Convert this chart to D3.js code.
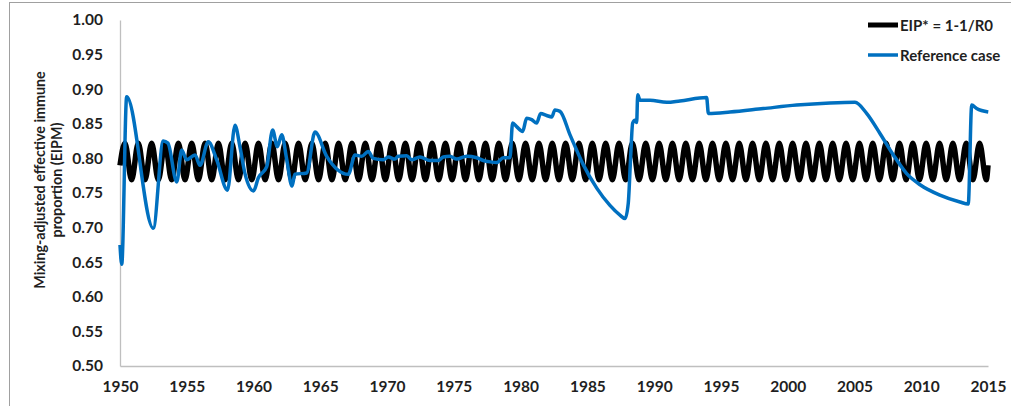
<html>
<head>
<title>EIPM chart</title>
<style>
  body { margin: 0; background: #fff; }
  text { font-family: Lato, "Open Sans", sans-serif; font-weight: bold; fill: #1f1f1f; }
</style>
<script src="https://cdn.jsdelivr.net/npm/d3@7"></script>
</head>
<body>
<div id="chart"></div>
<script>

// EIP* = 1-1/R0 (seasonal, peaks and troughs)
var eipYears = [1950.00,
  1950.37, 1950.87, 1951.37, 1951.87, 1952.37, 1952.87, 1953.37, 1953.87, 1954.37, 1954.87,
  1955.37, 1955.87, 1956.37, 1956.87, 1957.37, 1957.87, 1958.37, 1958.87, 1959.37, 1959.87,
  1960.37, 1960.87, 1961.37, 1961.87, 1962.37, 1962.87, 1963.37, 1963.87, 1964.37, 1964.87,
  1965.37, 1965.87, 1966.37, 1966.87, 1967.37, 1967.87, 1968.37, 1968.87, 1969.37, 1969.87,
  1970.37, 1970.87, 1971.37, 1971.87, 1972.37, 1972.87, 1973.37, 1973.87, 1974.37, 1974.87,
  1975.37, 1975.87, 1976.37, 1976.87, 1977.37, 1977.87, 1978.37, 1978.87, 1979.37, 1979.87,
  1980.37, 1980.87, 1981.37, 1981.87, 1982.37, 1982.87, 1983.37, 1983.87, 1984.37, 1984.87,
  1985.37, 1985.87, 1986.37, 1986.87, 1987.37, 1987.87, 1988.37, 1988.87, 1989.37, 1989.87,
  1990.37, 1990.87, 1991.37, 1991.87, 1992.37, 1992.87, 1993.37, 1993.87, 1994.37, 1994.87,
  1995.37, 1995.87, 1996.37, 1996.87, 1997.37, 1997.87, 1998.37, 1998.87, 1999.37, 1999.87,
  2000.37, 2000.87, 2001.37, 2001.87, 2002.37, 2002.87, 2003.37, 2003.87, 2004.37, 2004.87,
  2005.37, 2005.87, 2006.37, 2006.87, 2007.37, 2007.87, 2008.37, 2008.87, 2009.37, 2009.87,
  2010.37, 2010.87, 2011.37, 2011.87, 2012.37, 2012.87, 2013.37, 2013.87, 2014.37, 2014.87,
  2015.00];
var eipValues = [0.790,
  0.822, 0.769, 0.822, 0.769, 0.822, 0.769, 0.822, 0.769, 0.822, 0.769,
  0.822, 0.769, 0.822, 0.769, 0.822, 0.769, 0.822, 0.769, 0.822, 0.769,
  0.822, 0.769, 0.822, 0.769, 0.822, 0.769, 0.822, 0.769, 0.822, 0.769,
  0.822, 0.769, 0.822, 0.769, 0.822, 0.769, 0.822, 0.769, 0.822, 0.769,
  0.822, 0.769, 0.822, 0.769, 0.822, 0.769, 0.822, 0.769, 0.822, 0.769,
  0.822, 0.769, 0.822, 0.769, 0.822, 0.769, 0.822, 0.769, 0.822, 0.769,
  0.822, 0.769, 0.822, 0.769, 0.822, 0.769, 0.822, 0.769, 0.822, 0.769,
  0.822, 0.769, 0.822, 0.769, 0.822, 0.769, 0.822, 0.769, 0.822, 0.769,
  0.822, 0.769, 0.822, 0.769, 0.822, 0.769, 0.822, 0.769, 0.822, 0.769,
  0.822, 0.769, 0.822, 0.769, 0.822, 0.769, 0.822, 0.769, 0.822, 0.769,
  0.822, 0.769, 0.822, 0.769, 0.822, 0.769, 0.822, 0.769, 0.822, 0.769,
  0.822, 0.769, 0.822, 0.769, 0.822, 0.769, 0.822, 0.769, 0.822, 0.769,
  0.822, 0.769, 0.822, 0.769, 0.822, 0.769, 0.822, 0.769, 0.822, 0.769,
  0.790];

// Reference case
var refYears = [1950.00, 1950.13, 1950.50, 1952.49, 1953.24, 1953.59, 1954.25, 1954.62, 1954.99, 1955.62,
  1955.99, 1956.61, 1957.24, 1958.05, 1958.61, 1958.99, 1959.36, 1960.00, 1960.36, 1960.99,
  1961.43, 1961.78, 1962.11, 1962.48, 1962.88, 1963.10, 1963.98, 1964.60, 1965.48, 1967.10,
  1967.60, 1968.10, 1968.59, 1968.97, 1969.72, 1970.09, 1970.59, 1970.84, 1971.47, 1971.84,
  1972.46, 1973.21, 1973.83, 1974.21, 1974.71, 1975.21, 1975.96, 1976.71, 1977.21, 1977.71,
  1978.21, 1978.70, 1979.20, 1979.40, 1979.70, 1980.15, 1980.45, 1980.83, 1981.20, 1981.50,
  1981.95, 1982.33, 1982.57, 1982.95, 1983.70, 1984.69, 1985.70, 1986.69, 1987.44, 1987.82,
  1988.06, 1988.24, 1988.39, 1988.56, 1988.69, 1988.77, 1988.94, 1989.69, 1990.94, 1991.93,
  1993.93, 1994.06, 1995.68, 1998.17, 2000.67, 2003.17, 2005.04, 2005.91, 2006.91, 2007.91,
  2008.91, 2009.91, 2011.40, 2012.90, 2013.52, 2013.78, 2014.15, 2015.02];
var refValues = [0.675, 0.647, 0.889, 0.699, 0.825, 0.822, 0.766, 0.812, 0.798, 0.805,
  0.790, 0.824, 0.798, 0.754, 0.848, 0.816, 0.778, 0.753, 0.772, 0.788,
  0.841, 0.817, 0.834, 0.799, 0.760, 0.777, 0.779, 0.838, 0.803, 0.777,
  0.805, 0.803, 0.810, 0.800, 0.798, 0.802, 0.799, 0.803, 0.804, 0.798,
  0.802, 0.797, 0.797, 0.802, 0.803, 0.799, 0.803, 0.801, 0.797, 0.795,
  0.794, 0.801, 0.801, 0.851, 0.846, 0.839, 0.858, 0.856, 0.851, 0.865,
  0.862, 0.860, 0.870, 0.868, 0.834, 0.791, 0.757, 0.732, 0.718, 0.713,
  0.735, 0.802, 0.851, 0.855, 0.852, 0.892, 0.884, 0.884, 0.881, 0.883,
  0.888, 0.865, 0.867, 0.872, 0.877, 0.880, 0.881, 0.865, 0.836, 0.805,
  0.778, 0.762, 0.747, 0.737, 0.734, 0.877, 0.872, 0.867];

var yTicks = [0.50, 0.55, 0.60, 0.65, 0.70, 0.75, 0.80, 0.85, 0.90, 0.95, 1.00];
var xTicks = [1950, 1955, 1960, 1965, 1970, 1975, 1980, 1985, 1990, 1995, 2000, 2005, 2010, 2015];
var seriesNames = ["EIP* = 1-1/R0", "Reference case"];
var seriesColors = ["#000000", "#0070c0"];

var W = 1011, H = 406;
var plotLeft = 120, plotRight = 988, plotTop = 20, plotBottom = 366;

var svg = d3.select("#chart").append("svg")
    .attr("width", W)
    .attr("height", H);

svg.append("rect").attr("width", W).attr("height", H).attr("fill", "#fff");

// outer frame of the figure
svg.append("rect")
    .attr("x", 9.5).attr("y", 2.5)
    .attr("width", W + 20).attr("height", H + 20)
    .attr("fill", "none")
    .attr("stroke", "#a0a0a0")
    .attr("stroke-width", 1);

var x = d3.scaleLinear().domain([1950, 2015]).range([plotLeft, plotRight]);
var y = d3.scaleLinear().domain([0.5, 1.0]).range([plotBottom, plotTop]);

// axes, no tick marks
var xAxis = svg.append("g")
    .attr("transform", "translate(0," + plotBottom + ")")
    .call(d3.axisBottom(x).tickValues(xTicks).tickFormat(d3.format("d")).tickSize(0).tickPadding(15));
xAxis.select(".domain").attr("stroke", "#bfbfbf").attr("stroke-width", 1.3);
xAxis.selectAll("text").attr("font-size", "15.5px").attr("fill", "#1a1a1a").attr("font-family", "Lato");

var yAxis = svg.append("g")
    .attr("transform", "translate(" + plotLeft + ",0)")
    .call(d3.axisLeft(y).tickValues(yTicks).tickFormat(d3.format(".2f")).tickSize(0).tickPadding(17));
yAxis.select(".domain").attr("stroke", "#bfbfbf").attr("stroke-width", 1.3);
yAxis.selectAll("text").attr("font-size", "15.5px").attr("fill", "#1a1a1a").attr("font-family", "Lato");

// y title
var yTitle = svg.append("text")
    .attr("transform", "translate(45,180) rotate(-90)")
    .attr("text-anchor", "middle")
    .style("font-size", "14.3px");
yTitle.append("tspan").attr("x", 0).attr("dy", 0).text("Mixing-adjusted effective immune");
yTitle.append("tspan").attr("x", 0).attr("dy", 17).text("proportion (EIPM)");

var line = d3.line()
    .x(function(d){ return x(d[0]); })
    .y(function(d){ return y(d[1]); })
    .curve(d3.curveMonotoneX);

var eipData = eipYears.map(function(t, i){ return [t, eipValues[i]]; });
var refData = refYears.map(function(t, i){ return [t, refValues[i]]; });

svg.append("path")
    .datum(eipData)
    .attr("d", line)
    .attr("fill", "none")
    .attr("stroke", seriesColors[0])
    .attr("stroke-width", 5.5);

svg.append("path")
    .datum(refData)
    .attr("d", line)
    .attr("fill", "none")
    .attr("stroke", seriesColors[1])
    .attr("stroke-width", 3.5)
    .attr("stroke-linejoin", "round");

// legend
var legend = svg.append("g").attr("transform", "translate(868,25)");
seriesNames.forEach(function(name, i){
  legend.append("line")
      .attr("x1", 0).attr("x2", 30)
      .attr("y1", i * 30).attr("y2", i * 30)
      .attr("stroke", seriesColors[i])
      .attr("stroke-width", i == 0 ? 5 : 3.5);
  legend.append("text")
      .attr("x", 32).attr("y", i * 30 + 5.5)
      .style("font-size", "15px")
      .text(name);
});

</script>
</body>
</html>
